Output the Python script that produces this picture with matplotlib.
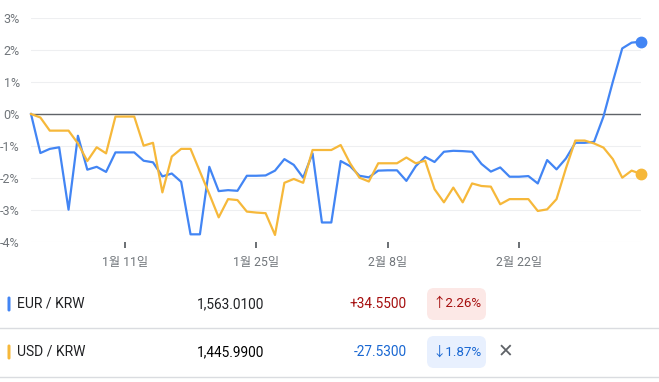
# EUR/KRW vs USD/KRW - percent change since Jan 1
import pandas as pd
import matplotlib.pyplot as plt
from matplotlib.patches import FancyBboxPatch

plt.rcParams['font.family'] = ['Roboto', 'Noto Sans CJK KR', 'DejaVu Sans']

# daily % change from start (Jan 1 .. Mar 7)
eur_pct = [0, -1.22, -1.09, -1.04, -2.99, -0.68, -1.74, -1.65, -1.81, -1.2, -1.2, -1.2,
           -1.46, -1.51, -1.95, -1.86, -2.12, -3.76, -3.76, -1.65, -2.41, -2.38, -2.4,
           -1.93, -1.93, -1.92, -1.77, -1.41, -1.59, -1.99, -1.23, -3.39, -3.39, -1.47,
           -1.63, -1.93, -1.98, -1.77, -1.76, -1.76, -2.09, -1.63, -1.34, -1.5, -1.18,
           -1.15, -1.16, -1.18, -1.56, -1.8, -1.67, -1.96, -1.96, -1.94, -2.17, -1.44,
           -1.73, -1.39, -0.9, -0.9, -0.87, -0.08, 1.01, 2.05, 2.23, 2.26]
usd_pct = [0, -0.11, -0.52, -0.52, -0.52, -0.92, -1.47, -1.04, -1.23, -0.08, -0.08, -0.08,
           -0.99, -0.9, -2.45, -1.33, -1.09, -1.09, -1.8, -2.5, -3.23, -2.66, -2.69,
           -3.05, -3.08, -3.1, -3.78, -2.15, -2.03, -2.15, -1.125, -1.125, -1.125, -0.97,
           -1.54, -1.99, -2.11, -1.54, -1.54, -1.54, -1.36, -1.54, -1.46, -2.35, -2.76,
           -2.3, -2.76, -2.17, -2.25, -2.27, -2.82, -2.66, -2.66, -2.66, -3.03, -2.98,
           -2.66, -1.7, -0.83, -0.83, -0.92, -1.05, -1.41, -1.99, -1.77, -1.87]
dates = pd.date_range("2025-01-01", periods=len(eur_pct), freq="D")

tick_dates = pd.to_datetime(["2025-01-11", "2025-01-25", "2025-02-08", "2025-02-22"])
tick_labels = ["1월 11일", "1월 25일", "2월 8일", "2월 22일"]
y_ticks = [-4, -3, -2, -1, 0, 1, 2, 3]

# table rows
pairs = ["EUR / KRW", "USD / KRW"]
prices = ["1,563.0100", "1,445.9900"]
changes = ["+34.5500", "-27.5300"]
pct_labels = ["↑2.26%", "↓1.87%"]

blue = '#4285f4'
yellow = '#f6b83a'
W, H = 659, 382

fig = plt.figure(figsize=(W / 100, H / 100), dpi=100)
ax = fig.add_axes([31 / W, 1 - 242 / H, 610 / W, 224 / H])

ax.plot(dates, eur_pct, color=blue, lw=1.6, clip_on=False, zorder=3)
ax.plot(dates, usd_pct, color=yellow, lw=1.6, clip_on=False, zorder=3)
ax.plot(dates[-1], eur_pct[-1], 'o', color=blue, ms=7.5, clip_on=False, zorder=4)
ax.plot(dates[-1], usd_pct[-1], 'o', color=yellow, ms=7.5, clip_on=False, zorder=4)
ax.axhline(0, color='#5f6368', lw=1, zorder=2)

ax.set_xlim(dates[0], dates[-1])
ax.set_ylim(-4, 3)
ax.set_yticks(y_ticks)
ax.set_yticklabels([f"{v}%" for v in y_ticks])
ax.set_xticks(tick_dates)
ax.set_xticklabels(tick_labels)
ax.yaxis.grid(True, color='#eeeff1', lw=0.8)
ax.tick_params(axis='y', length=0, pad=8, labelsize=9, labelcolor='#70757a')
ax.tick_params(axis='x', length=4, width=1.3, color='#5f6368', pad=6,
               labelsize=8.8, labelcolor='#70757a')
for s in ax.spines.values():
    s.set_visible(False)

# bottom table drawn in pixel coordinates
tab = fig.add_axes([0, 0, 1, 1])
tab.set_xlim(0, W)
tab.set_ylim(H, 0)
tab.axis('off')

row_y = [304, 352]
bar_colors = [blue, yellow]
chg_colors = ['#a50e0e', '#1967d2']
badge_colors = ['#fce8e6', '#e8f0fe']
for i in range(2):
    y = row_y[i]
    tab.add_patch(FancyBboxPatch((7.5, y - 7.5), 3, 15, boxstyle="round,pad=0,rounding_size=1.5",
                                 fc=bar_colors[i], ec='none'))
    tab.text(17, y, pairs[i], fontsize=10, color='#202124', va='center', ha='left')
    tab.text(197, y, prices[i], fontsize=9.8, color='#202124' if i == 0 else '#000000',
             va='center', ha='left')
    tab.text(407, y, changes[i], fontsize=9.8, color=chg_colors[i], va='center', ha='right')
    tab.add_patch(FancyBboxPatch((427, y - 16), 59, 32, boxstyle="round,pad=0,rounding_size=7",
                                 fc=badge_colors[i], ec='none'))
    tab.text(457, y, pct_labels[i], fontsize=9.6, color=chg_colors[i], va='center', ha='center')

tab.text(505.5, row_y[1], "✕", fontsize=13.5, color='#5f6368', va='center', ha='center',
         family=['DejaVu Sans'])
tab.plot([0, W], [328, 328], color='#dadce0', lw=1)
tab.plot([0, W], [377, 377], color='#dadce0', lw=1)

fig.savefig("out.png", dpi=100)
